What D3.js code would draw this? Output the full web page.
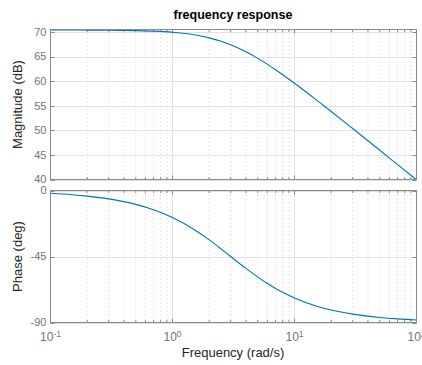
<!DOCTYPE html>
<html><head><meta charset="utf-8">
<script src="https://cdn.jsdelivr.net/npm/d3@7"></script>
<style>body{margin:0;background:#fff;}svg{display:block;font-family:"Liberation Sans",Arial,sans-serif;}</style>
</head><body><svg id="c" width="422" height="365"></svg>
<script>
const freq = [0.1,0.15,0.2,0.3,0.5,0.7,1,1.5,2,2.5,3,4,5,6,7,8,10,15,20,30,50,70,100];
const magnitude = [70.39,70.39,70.38,70.36,70.28,70.17,69.94,69.43,68.80,68.11,67.39,65.96,64.63,63.41,62.31,61.31,59.57,56.25,53.83,50.36,45.95,43.03,39.94];
const phase = [-1.91,-2.86,-3.81,-5.71,-9.46,-13.13,-18.43,-26.57,-33.69,-39.81,-45.0,-53.13,-59.04,-63.43,-66.80,-69.44,-73.30,-78.69,-81.47,-84.29,-86.57,-87.55,-88.28];
const magTicks = [40,45,50,55,60,65,70];
const phaseTicks = [-90,-45,0];
const decadeTicks = [0.1,1,10,100];
const decadeExp = ["-1","0","1","2"];
const titleText = "frequency response";

const svg = d3.select("#c");
const L = 50.5, R = 416.5;
const x = d3.scaleLog().domain([0.1,100]).range([L,R]);
const minor = [];
[0.1,1,10].forEach(d=>{for(let k=2;k<=9;k++) minor.push(d*k);});

function panel(top,bottom,ydom,yt,vals,label,id){
  const y = d3.scaleLinear().domain(ydom).range([bottom,top]);
  const g = svg.append("g");
  g.selectAll(".mg").data(minor).join("line")
   .attr("x1",d=>x(d)).attr("x2",d=>x(d)).attr("y1",top).attr("y2",bottom)
   .attr("stroke","#cfcfcf").attr("stroke-width",1).attr("stroke-dasharray","1,3");
  g.selectAll(".xg").data(decadeTicks).join("line")
   .attr("x1",d=>x(d)).attr("x2",d=>x(d)).attr("y1",top).attr("y2",bottom)
   .attr("stroke","#e2e2e2").attr("stroke-width",1);
  g.selectAll(".yg").data(yt).join("line")
   .attr("x1",L).attr("x2",R).attr("y1",d=>Math.round(y(d))+0.5).attr("y2",d=>Math.round(y(d))+0.5)
   .attr("stroke","#e2e2e2").attr("stroke-width",1);
  const tk = g.append("g").attr("stroke","#8a8a8a").attr("stroke-width",1);
  minor.forEach(d=>{
    tk.append("line").attr("x1",x(d)).attr("x2",x(d)).attr("y1",bottom).attr("y2",bottom-2.5);
    tk.append("line").attr("x1",x(d)).attr("x2",x(d)).attr("y1",top).attr("y2",top+2.5);
  });
  decadeTicks.forEach(d=>{
    tk.append("line").attr("x1",x(d)).attr("x2",x(d)).attr("y1",bottom).attr("y2",bottom-4);
    tk.append("line").attr("x1",x(d)).attr("x2",x(d)).attr("y1",top).attr("y2",top+4);
  });
  yt.forEach(d=>{
    const yy = Math.round(y(d))+0.5;
    tk.append("line").attr("x1",L).attr("x2",L+4).attr("y1",yy).attr("y2",yy);
    tk.append("line").attr("x1",R).attr("x2",R-4).attr("y1",yy).attr("y2",yy);
  });
  svg.append("clipPath").attr("id",id).append("rect").attr("x",L).attr("y",top).attr("width",R-L).attr("height",bottom-top+1);
  const line = d3.line().x((d,i)=>x(freq[i])).y(d=>y(d)).curve(d3.curveMonotoneX);
  svg.append("path").datum(vals).attr("d",line).attr("fill","none")
   .attr("stroke","#0072BD").attr("stroke-width",1.1).attr("clip-path",`url(#${id})`);
  svg.append("rect").attr("x",L).attr("y",top).attr("width",R-L).attr("height",bottom-top)
   .attr("fill","none").attr("stroke","#8a8a8a").attr("stroke-width",1);
  svg.append("g").selectAll("text").data(yt).join("text")
   .attr("x",L-4).attr("y",d=>y(d)).attr("dy","0.35em").attr("text-anchor","end")
   .attr("font-size",11).attr("fill","#737373").text(d=>d);
  svg.append("text").attr("transform",`translate(22,${(top+bottom)/2}) rotate(-90)`)
   .attr("text-anchor","middle").attr("font-size",13).attr("fill","#262626").text(label);
  return y;
}
panel(29.5,179.5,[40,70.5],magTicks,magnitude,"Magnitude (dB)","cm");
panel(190.5,322.5,[-90,0],phaseTicks,phase,"Phase (deg)","cp");

const xl = svg.append("g").selectAll("text").data(decadeTicks).join("text")
  .attr("x",d=>x(d)).attr("y",341).attr("text-anchor","middle")
  .attr("font-size",12).attr("fill","#737373");
xl.append("tspan").text("10");
xl.append("tspan").attr("dy","-0.45em").attr("font-size",8.5).text((d,i)=>decadeExp[i]);

svg.append("text").attr("x",233).attr("y",357).attr("text-anchor","middle")
  .attr("font-size",13).attr("fill","#262626").text("Frequency  (rad/s)");
svg.append("text").attr("x",233).attr("y",19).attr("text-anchor","middle")
  .attr("font-size",12.5).attr("font-weight","bold").attr("fill","#000").text(titleText);
</script></body></html>
